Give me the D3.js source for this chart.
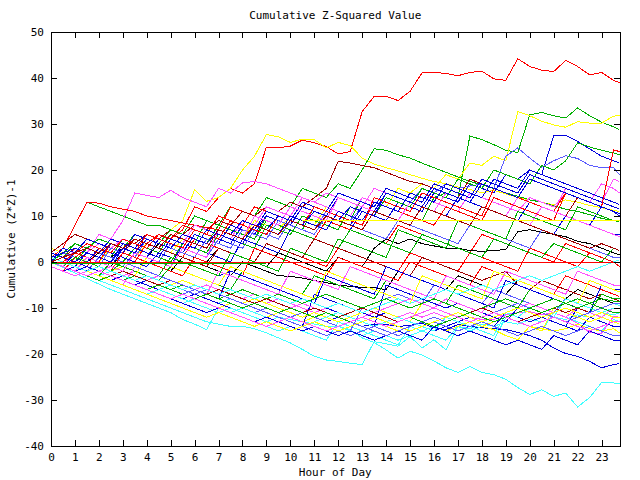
<!DOCTYPE html>
<html>
<head>
<meta charset="utf-8">
<script src="https://cdn.jsdelivr.net/npm/d3@7"></script>
<style>
  body { margin: 0; background: #fff; }
  svg { display: block; }
  text { font-family: "DejaVu Sans Mono", monospace; font-size: 11px; fill: #000; }
</style>
</head>
<body>
<div id="chart"></div>
<script>
// half-hour samples, last one at 23:45
const hours = d3.range(0, 23.75, 0.5).concat([23.75]);
const xTicks = d3.range(0, 24, 1);
const yTicks = d3.range(-40, 51, 10);

const RED = '#ff0000', GREEN = '#00b000', BLUE = '#0000dd', LBLUE = '#5a5aff',
	MAGENTA = '#ff50ff', CYAN = '#40ffff', YELLOW = '#ffff00', DRED = '#a00000', BLACK = '#000000';

const seriesColors = [
	RED, YELLOW, GREEN, YELLOW, GREEN, BLUE, LBLUE, GREEN, MAGENTA, RED, DRED, BLUE,
	BLACK, BLACK, RED, CYAN, CYAN, CYAN, BLUE, MAGENTA, YELLOW, LBLUE, BLUE, BLUE,
	CYAN, YELLOW, MAGENTA, MAGENTA, GREEN, DRED, BLUE, LBLUE, RED, GREEN, BLUE,
	YELLOW, RED, BLUE, MAGENTA, CYAN, GREEN, LBLUE, DRED,
	BLUE, RED, MAGENTA, GREEN, BLUE, YELLOW, LBLUE, BLUE, CYAN, DRED, GREEN, MAGENTA,
	RED, GREEN, YELLOW
];

const seriesValues = [
	[1,2,1,3,2,4,3,5,4,6, 5,7,12,11,14,16,15,17,25,24.8, 25.2,26.5,25.9,25.1,23.5,24,32.7,36,36,35.1, 37.1,41.1,41.2,41,40.5,41.2,41.5,39.8,39.5,44.2, 42.5,41.7,41.4,43.8,42.5,40.7,41.2,39.5,39],
	[0,1,3,2,4,3,5,4,6,5, 7,9,15.7,13.2,14,16,20,23,27.7,27.2, 26,26.7,26.6,24.8,26,25.3,22.6,21.3,20.5,19.8, 19,18.2,17.5,17,16.3,15.8,15,15.6,14.8,14, 13.5,13,12.4,13.5,13,12.3,11.8,11.2,11],
	[2,1,0,3,2,1,5,4,3,2, 6,5,4,9,8,7,6,5,10,9, 8,7,12,11,10,9,14,13,12,11, 10,9,14,15,14,27.4,26.6,25.5,24.3,23.8, 32,32.5,31.8,31.3,33.5,31.8,30.4,29.4,28.8],
	[1,0,-1,1,0,3,2,1,4,3, 2,5,4,3,7,6,5,9,8,7, 10,9,8,12,11,10,14,13,12,16, 15,17,16,19,18,21.5,21,23,22,32.7, 31.8,30.6,29.8,29.3,30.5,30.2,30.2,31.7,31.9],
	[0,3,8,13,12,11,10,9,8,8, 7,6,10,9,8,12,11,10,14,13, 12,16,15,14,17,16,20,24.6,24.3,23.3, 22.6,21.5,20.5,19.5,18.5,17.5,16.8,16,15,14.3, 13.5,13,12.2,11.5,11,10.3,9.5,9,8.8],
	[0,-1,2,1,0,-1,3,2,1,0, -1,4,3,2,1,0,5,4,3,2, 7,6,5,9,8,7,11,10,9,13, 12,11,15,14,13,17,16,15,19,18, 20,19,27.4,27.5,26.2,24.6,23,22,21.5],
	[1,0,-1,-2,1,0,-1,2,1,0, 4,3,2,1,5,4,3,7,6,5, 9,8,7,11,10,9,12,11,15,14, 13,16,15,17,16,16.5,17,16,23,24.8, 22.6,20.6,22,23.1,22.5,21,20.5,20.5,19],
	[2,1,4,3,2,1,0,3,2,1, 0,4,3,2,6,5,4,3,8,7, 6,10,9,8,7,12,11,10,14,13, 12,16,15,14,18,17,16,20,19,18, 17,21,20,22,25.9,25,24.3,23.7,23.3],
	[0,-1,3,2,6,5,9,15,14.5,14, 15.6,14,13,12,16,15,17.2,17.5,17,16, 15,14,13,15,14,13,12,16,15,14, 13,12,11,15,14,13,12,11,10,14, 13,12,11,16,15,14,13,18,17.5],
	[1,3,8,13,12.8,12,11.5,11,10,9.5, 9,8.5,8,7.5,7,12,11,10,9,8, 7,6,5,9,8,7,6,5,4,8, 7,6,5,4,3,2,6,5,4,3, 2,1,0,4,3,2,1,0,-1],
	[0,1,3,2,4,3,5,4,6,5, 7,6,8,7,9,8,11,10,12,11, 13,12,14,16,21.9,21.5,21,20.5,19.5,18.5, 17.5,17,16,15,14,18,17,16,15,14, 13,12,11,10,14,13,12,11,10.5],
	[3,2,4,3,2,5,4,3,6,5, 4,3,7,6,5,4,8,7,10,9, 8,12,11,10,14,13,12,11,15,14, 13,12,11,10,14,13,12,11,10,9, 13,12,11,10,9,8,12,11,10.5],
	[0,-1,1,0,2,1,3,2,1,4, 3,2,1,0,3,2,1,0,-1,2, 1,0,-1,-2,1,0,-1,3,5,4, 5,4,3.5,3,3,2.5,2.3,2.5,2.7,6.6, 7,6.5,6,5.5,4.5,4,3,2,1.6],
	[1,0,2,1,0,-1,2,1,0,-1, -2,1,0,-1,-2,-3,0,-1,-2,-3, -3.1,-3.5,-4,-4.5,-5,-5.3,-5.5,-5.6,-6,-2, -3,-4,-5,-6,-3,-4,-5,-6,-7,-4, -5,-6,-7,-8,-6,-7,-8,-9,-9.5],
	[2,1,0,-1,3,2,1,0,4,3, 2,1,5,4,3,2,1,0,4,3, 2,1,0,-1,3,2,1,0,-1,-2, 2,1,0,-1,-2,2,1,0,-1,-2, 3,2,1,0,-1,2,1,0,0.5],
	[0,-1,-2,-3,-4,-5,-6,-7,-8,-9, -10,-11,-12,-13,-13.5,-14,-14,-14.5,-15.4,-16.5, -17.6,-19,-20.5,-21.3,-21.6,-22,-22.3,-17.3,-17.8,-18.3, -16.2,-18.7,-16.9,-19.1,-14,-14.5,-13.5,-14,-13,-13.5, -12.5,-13,-12,-12.5,-11.5,-12,-11,-11.5,-11],
	[1,0,-1,-2,-3,-2,-3,-4,-5,-6, -5,-6,-7,-8,-9,-8,-9,-10,-11,-12, -12.5,-13,-13.5,-14,-14,-14.7,-16.5,-17.5,-19.1,-20.9, -19.4,-20.2,-21.5,-23,-24,-22.7,-24,-24.5,-25.5,-27.3, -28.8,-27.8,-29.2,-28.5,-31.5,-29.5,-26.2,-26.3,-26.5],
	[0,-1.2,-2.4,-3.6,-4.8,-6,-7,-8,-9,-10, -11,-12.5,-13.5,-14.7,-10,-11,-12,-13,-14,-15, -14,-15,-16,-17,-13,-14,-15,-16,-17,-18, -14,-15,-16,-17,-14,-15,-16,-17,-12,-13, -14,-15,-11,-12,-13,-14,-15,-12.5,-13],
	[0,-1,-2,-1,-2,-3,-4,-5,-4,-5, -6,-7,-8,-7,-8,-9,-10,-9,-10,-11, -12,-11,-12,-13,-12,-13,-14,-13.5,-13.6,-14, -13.8,-13.3,-14.3,-14.7,-13.6,-14,-14.3,-14.5,-14.7,-15.3, -16,-17,-18.7,-19.9,-20.5,-21.6,-23,-22.3,-22.1],
	[1,0,-1,-2,-1,-2,-3,-2,-3,-4, -5,-4,-5,-6,-7,-6,-7,-8,-9,-8, -9,-10,-11,-10,-11,-12,-11,-10,-11,-12, -11,-12,-11,-12,-13,-12,-12.5,-12.5,-11.5,-11, -10.8,-11.5,-11,-12,-13.3,-15.4,-15.5,-11.8,-12],
	[0,-1,-2,-3,-2,-3,-4,-5,-6,-5, -6,-7,-8,-9,-10,-9,-10,-11,-12,-11, -12,-13,-12,-13,-14,-13,-12,-13,-14,-15, -14,-13,-14,-15,-14,-13,-14,-14.7,-16,-16.9, -14,-14.5,-15,-14.5,-13.5,-14.5,-15,-14.5,-15.4],
	[2,1,0,-1,-2,-3,-2,-3,-4,-5, -6,-7,-6,-7,-8,-9,-10,-11,-10,-11, -12,-13,-14,-15,-16,-15,-10,-9,-8,-7, -8,-9,-5,-6,-7,-8,-9,-6,-7,-8, -9,-10,-11,-8,-9,-10,-11,-12,-12],
	[-1,-2,-1,-2,-3,-4,-3,-4,-5,-6, -7,-8,-7,-8,-9,-10,-11,-12,-13,-12, -13,-14,-7,-8,-9,-10,-11,-12,-11,-12, -13,-14,-15,-14,-13,-12,-13,-14,-11,-12, -13,-12,-13,-14,-15,-12,-13,-14,-14],
	[1,2,1,0,3,2,1,0,-1,2, 1,0,-1,-2,-3,-2,-3,-4,-5,-6, -7,-8,-9,-10,-11,-12,-13,-14,-5,-6, -7,-8,-9,-10,-9,-10,-11,-12,-13,-10, -11,-12,-13,-14,-10,-11,-12,-13,-13],
	[0,-1,-2,-3,-4,-3,-4,-5,-6,-7, -8,-9,-8,-9,-10,-11,-10,-11,-12,-13, -12,-13,-14,-15,-14,-15,-16,-15,-16,-17, -16,-15,-14,-15,-16,-15,-14,-13,-12,-11, -10,-11,-10,-9,-10,-11,-10,-9,-9.5],
	[3,2,1,0,-1,-2,-1,-2,-3,-4, -5,-4,-5,-6,-7,-8,-9,-8,-9,-10, -11,-12,-11,-12,-13,-12,-11,-10,-11,-12, -13,-9,-10,-11,-12,-13,-14,-13,-12,-13, -14,-15,-10,-11,-12,-13,-12,-13,-13.5],
	[0,1,0,-1,-2,-1,-2,-3,-4,-3, -4,-5,-6,-5,-6,-7,-8,-7,-8,-9, -10,-9,-10,-11,-12,-13,-12,-11,-10,-9, -8,-9,-10,-8,-9,-10,-11,-8,-9,-10, -9,-10,-11,-12,-10,-11,-12,-10,-10],
	[1,2,3,2,4,3,5,4,3,6, 5,4,8,7,6,5,9,8,12,11, 10,14,13,12,11,10,14,13,12,11, 15,14,13,12,11,15,14,13,12,11, 14,13,12,15,14,13,17,16,15],
	[0,2,4,3,5,4,3,6,5,4, 7,6,5,4,8,7,6,5,9,8, 7,6,5,4,3,7,6,5,4,3, 2,6,5,4,3,2,1,5,4,3, 2,1,4,3,2,1,0,3,2.5],
	[2,4,6,5,4,3,2,5,4,3, 2,1,0,-1,3,2,1,0,4,3, 2,1,5,4,3,2,1,0,-1,-2, -3,1,0,-1,-2,-3,-4,-3,-2,-5, -6,-4,-5,-6,-7,-8,-7,-8,-8.5],
	[0,3,2,5,4,3,2,6,5,4, 3,2,6,5,4,8,7,6,10,9, 8,7,6,10,9,8,12,11,10,9, 8,12,11,10,9,8,12,11,10,9, 8,7,6,10,9,8,7,6,6],
	[0,-1,1,0,-1,3,2,1,5,4, 3,2,1,5,4,3,7,6,5,9, 8,7,6,10,9,8,7,6,5,9, 8,7,6,5,4,8,7,6,5,4, 3,7,6,5,4,3,2,1,1],
	[-1,-2,1,0,-1,-2,2,1,0,-1, -2,-3,1,0,-1,-2,-3,3,2,1, 0,-1,-2,-3,1,0,-1,-2,-3,-4, 0,-1,-2,-3,-4,-5,-1,-2,-3,-4, -5,-6,-7,-3,-4,-5,-6,-7,-7.5],
	[1,0,-1,-2,-3,0,-1,-2,-3,-4, -1,-2,-3,-4,-5,-6,-2,-3,-4,-5, -6,-7,-3,-4,-5,-6,-7,-8,-4,-5, -6,-7,-8,-9,-5,-6,-7,-8,-9,-10, -6,-7,-8,-9,-10,-11,-7,-8,-8],
	[2,1,0,-1,-2,-3,-4,-3,-4,-5, -6,-5,-6,-7,-8,-2,-3,-4,-5,-6, -7,-8,-9,-3,-4,-5,-6,-7,-1,-2, -3,-4,-5,-6,-7,-8,-9,-10,-4,-5, -6,-7,-8,-9,-10,-11,-5,-6,-6],
	[0,1,2,1,0,-1,-2,-3,1,0, -1,-2,-3,-4,-5,-1,-2,-3,-4,-5, -6,-7,-8,-2,-3,-4,-5,-6,-7,-8, -9,-3,-4,-5,-6,-7,-8,-2,-3,-4, -5,-6,-7,-8,-9,-4,-5,-6,-6.5],
	[0,1,2,4,3,2,5,4,3,6, 5,8,7,6,10,9,8,12,11,10, 9,8,12,11,10,9,8,13,12,11, 10,9,8,12,11,10,9,14,13,12, 11,10,9,15,14,13,12,11,10],
	[1,0,-1,2,1,0,4,3,2,1, 5,4,3,7,6,5,4,8,7,6, 10,9,8,7,11,10,9,13,12,11, 15,14,13,17,16,15,14,18,17,16, 20,19,18,17,16,15,14,13,12.5],
	[-1,-2,-3,-2,-3,-4,-5,-1,-2,-3, -4,-5,-6,-7,-2,-3,-4,-5,-6,-7, -2,-3,-4,-5,-6,-1,-2,-3,-4,-5, -6,-7,-8,-3,-4,-5,-6,-7,-2,-3, -4,-5,-6,-7,-2,-3,-4,-5,-5],
	[1,0,-1,-2,-3,-4,-5,-6,-7,-6, -7,-8,-9,-10,-11,-10,-11,-12,-13,-12, -13,-14,-13,-12,-11,-12,-13,-14,-13,-12, -13,-14,-15,-12,-13,-14,-15,-16,-11,-12, -10,-11,-12,-8,-9,-10,-11,-10,-10],
	[0,-1,-2,-3,-2,-3,-4,-3,-4,-5, -6,-5,-6,-7,-8,-7,-6,-7,-8,-7, -8,-9,-8,-7,-8,-9,-10,-9,-8,-9, -10,-9,-8,-9,-10,-11,-10,-9,-8,-9, -10,-9,-8,-9,-8,-9,-8,-8.5,-8.5],
	[1,2,1,0,-1,-2,-3,-4,-3,-4, -5,-6,-7,-6,-7,-8,-9,-10,-11,-12, -13,-14,-15,-16,-15,-16,-15,-14,-15,-16, -15,-14,-13,-14,-15,-14,-13,-14,-15,-16, -15,-14,-15,-16,-15,-14,-15,-16,-16],
	[0,1,0,-1,-2,-3,-2,-3,-4,-5, -4,-5,-6,-7,-6,-7,-8,-9,-8,-9, -10,-11,-10,-11,-12,-11,-10,-11,-12,-13, -12,-11,-10,-11,-12,-11,-10,-11,-12,-13, -12,-11,-10,-11,-10,-11,-10,-11,-11],
	[0,1,0,2,1,0,3,2,1,5, 4,3,7,6,5,9,8,7,11,10, 9,13,12,11,15,14,13,12,16,15, 14,13,17,16,15,14,18,17,16,15, 19,18,17,16,15,14,13,12,11.5],
	[1,0,2,1,0,4,3,2,6,5, 4,3,7,6,5,9,8,7,6,10, 9,8,12,11,10,9,8,14,13,12, 11,15,14,13,12,11,10,16,15,14, 13,12,11,15,14,13,12,24.4,24],
	[0,-1,-2,1,0,-1,-2,2,1,0, -1,3,2,1,7,6,5,10,9,8, 12,11,10,9,14,13,12,11,10,9, 13,12,11,10,9,8,12,11,10,9, 8,12,11,10,9,8,7,6,5.5],
	[0,-1,1,0,-1,-2,0,-1,-2,-3, 1,0,-1,-2,-3,2,1,0,-1,-2, 3,2,1,0,5,4,3,2,1,7, 6,5,4,3,9,8,7,6,5,11, 10,9,8,7,12,11,10,9,9],
	[2,1,0,-1,-2,-3,-4,-5,-6,-7, -8,-9,-10,-11,-10,-11,-12,-13,-12,-13, -14,-15,-14,-15,-16,-15,-16,-17,-16,-15, -16,-17,-14,-15,-16,-15,-16,-17,-18,-17, -18,-19,-16,-17,-18,-15,-16,-17,-17],
	[1,0,-1,-2,-3,-4,-5,-6,-7,-8, -9,-10,-11,-12,-11,-12,-13,-14,-13,-14, -15,-14,-13,-14,-15,-14,-13,-12,-13,-14, -15,-14,-13,-12,-11,-12,-13,-12,-11,-10, -11,-12,-11,-10,-11,-12,-11,-12,-12],
	[0,1,2,3,2,1,0,-1,-2,-3, -4,-5,-6,-7,-8,-9,-10,-9,-10,-11, -12,-11,-12,-13,-14,-13,-14,-15,-16,-15, -14,-13,-12,-13,-12,-11,-12,-11,-10,-9, -10,-11,-12,-13,-12,-11,-10,-9,-9],
	[1,2,3,2,1,4,3,2,5,4, 3,6,5,4,7,6,9,8,7,10, 9,8,11,10,9,12,11,10,15,14, 13,12,16,15,14,13,17,16,15,14, 18,17,16,15,14,13,12,11,10],
	[1,0,-1,-2,-1,-2,-3,-4,-3,-4, -5,-6,-5,-6,-7,-6,-7,-8,-7,-8, -9,-8,-9,-10,-9,-10,-11,-10,-9,-8, -9,-8,-7,-6,-7,-6,-5,-6,-5,-4, -3,-4,-3,-2,-1,-2,-1,0,0.5],
	[0,1,2,3,2,4,3,5,4,3, 6,5,4,3,7,6,5,8,7,6, 9,8,7,10,9,8,7,11,10,9, 8,12,11,10,9,8,12,11,10,9, 8,7,6,5,4,3,4,3,2.5],
	[0,-1,-2,-3,-4,-3,-4,-5,-6,-5, -6,-7,-8,-7,-8,-9,-10,-9,-10,-11, -10,-11,-12,-11,-12,-13,-12,-13,-14,-13, -12,-13,-14,-13,-12,-11,-12,-13,-12,-11, -10,-11,-10,-9,-10,-9,-10,-11,-11],
	[0,-1,-2,-3,-2,-3,-4,-5,-6,-7, -8,-7,-8,-9,-10,-11,-12,-13,-14,-13, -12,-13,-14,-15,-14,-13,-12,-13,-14,-13, -12,-11,-10,-11,-12,-13,-12,-11,-12,-13, -14,-13,-12,-13,-14,-15,-14,-13,-13],
	// flat red at zero
	[0,0,0,0,0,0,0,0,0,0, 0,0,0,0,0,0,0,0,0,0, 0,0,0,0,0,0,0,0,0,0, 0,0,0,0,0,0,0,0,0,0, 0,0,0,0,0,0,0,0,0],
	// flat green, morning only
	[-0.3,-0.3,-0.3,-0.3,-0.3,-0.3,-0.3,-0.3,-0.3,-0.3, -0.3,-0.3,-0.3,-0.3,-0.3,-0.3,-0.3,-0.3,-0.3,null,
	 null,null,null,null,null,null,null,null,null,null, null,null,null,null,null,null,null,null,null,null,
	 null,null,null,null,null,null,null,null,null],
	// flat yellow, afternoon
	[null,null,null,null,null,null,null,null,null,null, null,null,null,null,null,null,null,null,null,null,
	 null,9,9,9,9,9,9,9,9,9, 9,9,9,9,9,9,9,9,9,9, 9,9,9,9,9,9,9,9,9]
];

const margin = { top: 32, right: 20, bottom: 34, left: 51 };
const width = 640 - margin.left - margin.right - 0.5;   // 569
const height = 480 - margin.top - margin.bottom;       // 414

const svg = d3.select('#chart')
	.append('svg')
	.attr('width', 640)
	.attr('height', 480);

svg.append('rect').attr('width', 640).attr('height', 480).attr('fill', '#fff');

const g = svg.append('g').attr('transform', `translate(${margin.left},${margin.top})`);

const xScale = d3.scaleLinear().domain([0, 23.75]).range([0, width]);
const yScale = d3.scaleLinear().domain([-40, 50]).range([height, 0]);

g.append('clipPath').attr('id', 'plot-clip')
	.append('rect').attr('width', width + 1).attr('height', height + 1);

// Lines
const line = d3.line()
	.defined((d) => d != null)
	.x((d, i) => xScale(hours[i]))
	.y((d) => yScale(d));

g.append('g')
	.attr('clip-path', 'url(#plot-clip)')
	.selectAll('path')
	.data(seriesValues)
	.enter()
	.append('path')
	.attr('fill', 'none')
	.attr('stroke', (d, i) => seriesColors[i % seriesColors.length])
	.attr('stroke-width', 1)
	.attr('shape-rendering', 'crispEdges')
	.attr('d', (d) => line(d.slice(0, hours.length)));

// Axes, ticks pointing inward on all four sides
const styleAxis = (sel) => {
	sel.select('.domain').remove();
	sel.selectAll('line').attr('stroke', '#000').attr('shape-rendering', 'crispEdges');
	sel.attr('font-family', null).attr('font-size', null);
};

g.append('g')
	.attr('transform', `translate(0,${height})`)
	.call(d3.axisBottom(xScale).tickValues(xTicks).tickSizeInner(-6).tickSizeOuter(0)
		.tickPadding(7).tickFormat((d) => String(d)))
	.call(styleAxis);

g.append('g')
	.call(d3.axisTop(xScale).tickValues(xTicks).tickSizeInner(-6).tickSizeOuter(0).tickFormat(''))
	.call(styleAxis);

g.append('g')
	.call(d3.axisLeft(yScale).tickValues(yTicks).tickSizeInner(-6).tickSizeOuter(0)
		.tickPadding(7).tickFormat((d) => String(d)))
	.call(styleAxis);

g.append('g')
	.attr('transform', `translate(${width},0)`)
	.call(d3.axisRight(yScale).tickValues(yTicks).tickSizeInner(-6).tickSizeOuter(0).tickFormat(''))
	.call(styleAxis);

// Border
g.append('rect')
	.attr('x', 0.5)
	.attr('y', 0.5)
	.attr('width', width)
	.attr('height', height)
	.attr('fill', 'none')
	.attr('stroke', '#000')
	.attr('shape-rendering', 'crispEdges');

// Titles
svg.append('text')
	.attr('x', margin.left + width / 2)
	.attr('y', 19)
	.attr('text-anchor', 'middle')
	.text('Cumulative Z-Squared Value');

svg.append('text')
	.attr('x', margin.left + width / 2)
	.attr('y', 476)
	.attr('text-anchor', 'middle')
	.text('Hour of Day');

svg.append('text')
	.attr('transform', `translate(15,${margin.top + height / 2}) rotate(-90)`)
	.attr('text-anchor', 'middle')
	.text('Cumulative (Z*Z)-1');
</script>
</body>
</html>
